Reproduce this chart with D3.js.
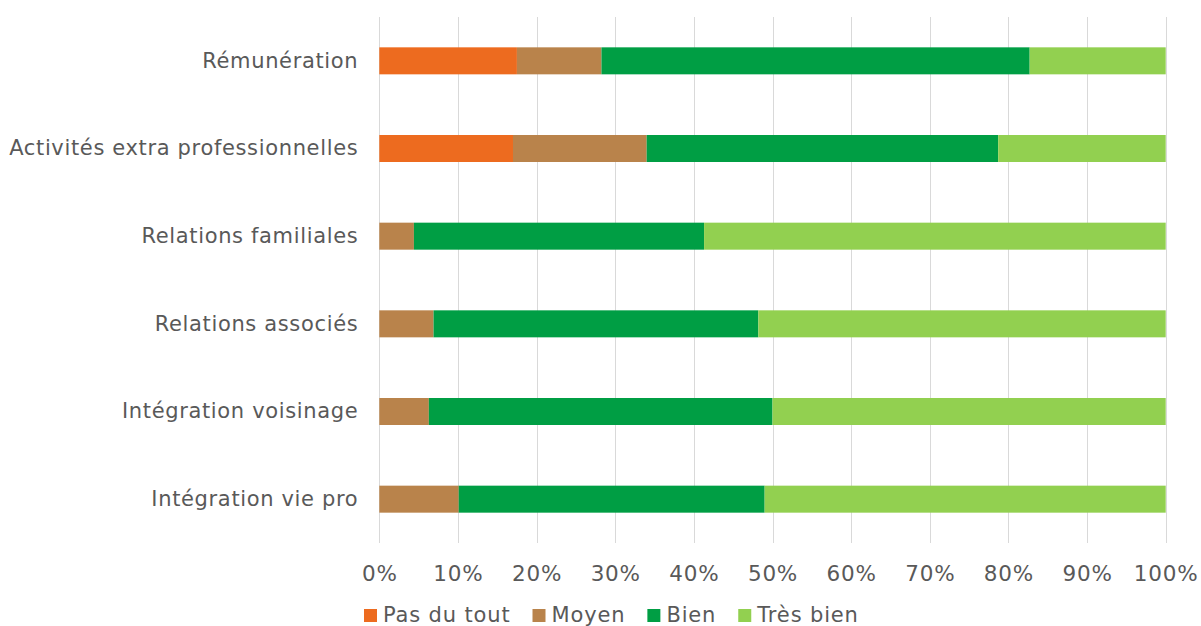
<!DOCTYPE html>
<html><head><meta charset="utf-8">
<script src="https://cdn.jsdelivr.net/npm/d3@7"></script>
<style>
html,body{margin:0;padding:0;background:#fff;}
text{font-family:"DejaVu Sans",Verdana,sans-serif;fill:#595959;}
</style></head>
<body>
<svg id="c" width="1201" height="626"></svg>
<script>
const categories = ["Rémunération","Activités extra professionnelles","Relations familiales","Relations associés","Intégration voisinage","Intégration vie pro"];
const seriesNames = ["Pas du tout","Moyen","Bien","Très bien"];
const pasDuTout = [17.5, 17.0, 0, 0, 0, 0];
const moyen     = [10.75, 17.0, 4.4, 6.9, 6.3, 10.1];
const bien      = [54.45, 44.7, 36.9, 41.3, 43.7, 38.9];
const tresBien  = [17.3, 21.3, 58.7, 51.8, 50.0, 51.0];
const tickValues = [0,10,20,30,40,50,60,70,80,90,100];
const colors = ["#ED6B1F","#B9834B","#009E44","#92D050"];

const svg = d3.select("#c");
const m = {left:379.3, right:1165.7, top:17, bottom:543};
const x = d3.scaleLinear().domain([0,100]).range([m.left, m.right]);
const y = d3.scaleBand().domain(categories).range([m.top, m.bottom]).paddingInner(0.692).paddingOuter(0.346);

const rows = categories.map((c,i)=>({cat:c, "Pas du tout":pasDuTout[i], "Moyen":moyen[i], "Bien":bien[i], "Très bien":tresBien[i]}));
const stacked = d3.stack().keys(seriesNames)(rows);

// gridlines
svg.append("g").selectAll("line").data(tickValues).join("line")
  .attr("x1",d=>Math.round(x(d))+0.5).attr("x2",d=>Math.round(x(d))+0.5)
  .attr("y1",m.top).attr("y2",m.bottom)
  .attr("stroke","#D9D9D9").attr("stroke-width",1);

// bars
svg.append("g").selectAll("g").data(stacked).join("g")
  .attr("fill",(d,i)=>colors[i])
  .selectAll("rect").data(d=>d).join("rect")
  .attr("x",d=>x(d[0])).attr("width",d=>Math.max(0,x(d[1])-x(d[0])))
  .attr("y",d=>y(d.data.cat)).attr("height",y.bandwidth());

// x axis labels
const xAxis = d3.axisBottom(x).tickValues(tickValues).tickFormat(d=>d+"%").tickSize(0).tickPadding(0);
const gx = svg.append("g").attr("transform","translate(0,566)").call(xAxis);
gx.select(".domain").remove();
gx.selectAll("text").attr("dy","0.71em").style("font-size","21.5px").style("letter-spacing","0.8px").attr("fill","#595959").style("font-family",'"DejaVu Sans",Verdana,sans-serif');

// y axis labels
const yAxis = d3.axisLeft(y).tickSize(0).tickPadding(21);
const gy = svg.append("g").attr("transform",`translate(${m.left},0)`).call(yAxis);
gy.select(".domain").remove();
gy.selectAll("text").style("font-size","21px").style("letter-spacing","0.65px").attr("fill","#595959").style("font-family",'"DejaVu Sans",Verdana,sans-serif');

// legend
const leg = svg.append("g");
let lx = 364;
seriesNames.forEach((s,i)=>{
  leg.append("rect").attr("x",lx).attr("y",609).attr("width",13).attr("height",13).attr("fill",colors[i]);
  const t = leg.append("text").attr("x",lx+19).attr("y",622).style("font-size","21px").style("letter-spacing","0.85px").text(s);
  lx += 19 + t.node().getComputedTextLength() + 22;
});
</script>
</body></html>
